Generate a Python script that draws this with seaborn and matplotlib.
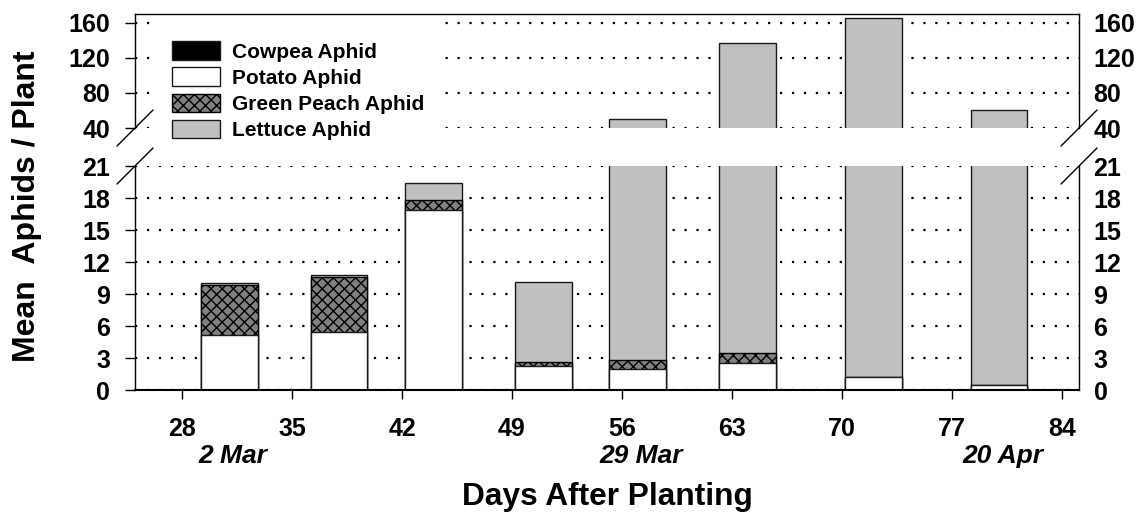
import numpy as np
import pandas as pd
import matplotlib
matplotlib.use("Agg")
import matplotlib.pyplot as plt
import matplotlib.transforms as mtransforms
from matplotlib.patches import Patch
from matplotlib.lines import Line2D
import seaborn as sns

# ---------------- data ----------------
days = [31, 38, 44, 51, 57, 64, 72, 80]
cowpea = [0, 0, 0, 0, 0, 0, 0, 0]
potato = [5.2, 5.4, 16.85, 2.25, 2.0, 2.5, 1.25, 0.5]
green_peach = [4.65, 5.2, 1.0, 0.35, 0.8, 0.95, 0.0, 0.0]
lettuce = [0.15, 0.2, 1.55, 7.55, 47.9, 133.4, 163.7, 60.5]

series_names = ["Cowpea Aphid", "Potato Aphid", "Green Peach Aphid", "Lettuce Aphid"]

x_ticks = [28, 35, 42, 49, 56, 63, 70, 77, 84]
lower_ticks = [0, 3, 6, 9, 12, 15, 18, 21]
upper_ticks = [40, 80, 120, 160]
date_days = [31, 57, 80]
date_labels = ["2 Mar", "29 Mar", "20 Apr"]

# ---------------- style ----------------
sns.set_theme(style="white")
plt.rcParams.update({
    "font.family": ["Liberation Sans", "DejaVu Sans"],
    "font.weight": "bold",
    "axes.labelweight": "bold",
    "text.color": "black",
    "axes.labelcolor": "black",
    "lines.scale_dashes": False,
    "hatch.linewidth": 1.0,
    "axes.edgecolor": "black",
    "axes.linewidth": 1.0,
    "xtick.color": "black",
    "ytick.color": "black",
    "xtick.labelcolor": "black",
    "ytick.labelcolor": "black",
})

EDGE = "#1a1a1a"
C_COWPEA = "black"
C_POTATO = "white"
C_GREEN = "#808080"
C_LETTUCE = "#c0c0c0"
HATCH = "xxx"

W, H = 1138, 516
fig = plt.figure(figsize=(W / 100, H / 100), dpi=100)
fig.patch.set_facecolor("white")


def fx(px):
    return px / W


def fy(py):
    return 1 - py / H


L, R = 135, 1079
ax_lo = fig.add_axes([fx(L), fy(390), fx(R) - fx(L), fy(166) - fy(390)])
ax_hi = fig.add_axes([fx(L), fy(128), fx(R) - fx(L), fy(14) - fy(128)])

df = pd.DataFrame({
    "day": days,
    "cowpea": cowpea,
    "potato": potato,
    "green": green_peach,
    "lettuce": lettuce,
})
df["c1"] = df["cowpea"]
df["c2"] = df["c1"] + df["potato"]
df["c3"] = df["c2"] + df["green"]
df["c4"] = df["c3"] + df["lettuce"]

layers = [
    ("c4", C_LETTUCE, None, EDGE),
    ("c3", C_GREEN, HATCH, "black"),
    ("c2", C_POTATO, None, EDGE),
    ("c1", C_COWPEA, None, EDGE),
]

dot_style = (0, (1.6, 7.0))

for ax in (ax_lo, ax_hi):
    for col, colr, hatch, ec in layers:
        sns.barplot(data=df, x="day", y=col, native_scale=True, width=0.6,
                    color=colr, saturation=1, edgecolor=ec, linewidth=1.0,
                    errorbar=None, hatch=hatch, ax=ax)
    ax.set_xlim(25, 85.1)
    ax.set_xlabel("")
    ax.set_ylabel("")
    ax.set_axisbelow(True)
    ax.yaxis.grid(True, color="black", linestyle=dot_style, linewidth=1.6)
    ax.xaxis.grid(False)
    for s in ax.spines.values():
        s.set_color("black")
        s.set_linewidth(1.0)

# lower panel
ax_lo.set_ylim(0, 21)
ax_lo.set_yticks(lower_ticks)
ax_lo.set_xticks(x_ticks)
ax_lo.set_xticklabels([str(t) for t in x_ticks])
ax_lo.spines["top"].set_visible(False)
ax_lo.spines["bottom"].set_linewidth(1.5)
ax_lo.tick_params(axis="x", bottom=True, length=6.5, width=1, pad=13,
                  labelsize=18, direction="out")
ax_lo.tick_params(axis="y", left=True, right=False, length=7.2, width=1,
                  pad=10.8, labelsize=18, direction="out")

# upper panel
ax_hi.set_ylim(40, 170)
ax_hi.set_yticks(upper_ticks)
ax_hi.set_xticks(x_ticks)
ax_hi.spines["bottom"].set_visible(False)
ax_hi.tick_params(axis="x", bottom=False, labelbottom=False)
ax_hi.tick_params(axis="y", left=True, right=False, length=7.2, width=1,
                  pad=10.8, labelsize=18, direction="out")

# right-hand labels (no tick marks)
for ax, ticks in ((ax_lo, lower_ticks), (ax_hi, upper_ticks)):
    sec = ax.secondary_yaxis("right")
    sec.set_yticks(ticks)
    sec.tick_params(axis="y", length=0, pad=10.5, labelsize=18,
                    labelcolor="black")
    sec.spines["right"].set_visible(False)
    for lab in sec.get_yticklabels():
        lab.set_fontweight("bold")

# date labels under the ticks
trans = mtransforms.blended_transform_factory(ax_lo.transData, ax_lo.transAxes)
trans = trans + mtransforms.ScaledTranslation(4 / 100, 0, fig.dpi_scale_trans)
for d, s in zip(date_days, date_labels):
    ax_lo.text(d, -(463 - 390) / 224, s, transform=trans, ha="center",
               va="baseline", fontsize=19, style="italic", fontweight="bold",
               color="black")

# axis titles
fig.text(fx((L + R) / 2), fy(505), "Days After Planting", ha="center",
         va="baseline", fontsize=22.8, fontweight="bold", color="black")
fig.text(fx(35), fy(206), "Mean  Aphids / Plant", rotation=90,
         rotation_mode="anchor", ha="center", va="baseline", fontsize=23,
         fontweight="bold", color="black")

# legend
handles = [
    Patch(facecolor=C_COWPEA, edgecolor=EDGE, linewidth=1.0),
    Patch(facecolor=C_POTATO, edgecolor=EDGE, linewidth=1.0),
    Patch(facecolor=C_GREEN, edgecolor="black", hatch=HATCH, linewidth=1.0),
    Patch(facecolor=C_LETTUCE, edgecolor=EDGE, linewidth=1.0),
]
leg = ax_hi.legend(handles, series_names, loc="upper left",
                   bbox_to_anchor=(fx(152), fy(21)),
                   bbox_transform=fig.transFigure, borderaxespad=0,
                   borderpad=0.97, fontsize=15, handlelength=2.3,
                   handleheight=0.99, handletextpad=0.56, labelspacing=0.28,
                   frameon=True, fancybox=False, framealpha=1)
leg.get_frame().set_facecolor("white")
leg.get_frame().set_edgecolor("none")
for t in leg.get_texts():
    t.set_fontweight("bold")
    t.set_color("black")

# axis-break slashes
for ax, yfrac in ((ax_hi, 0.0), (ax_lo, 1.0)):
    for xfrac in (0.0, 1.0):
        x0, y0 = ax.transAxes.transform((xfrac, yfrac))
        fig.add_artist(Line2D([x0 - 18, x0 + 18], [y0 - 18, y0 + 18],
                              transform=None, color="black",
                              linewidth=1.0, clip_on=False))

fig.savefig("out.png", dpi=100)
